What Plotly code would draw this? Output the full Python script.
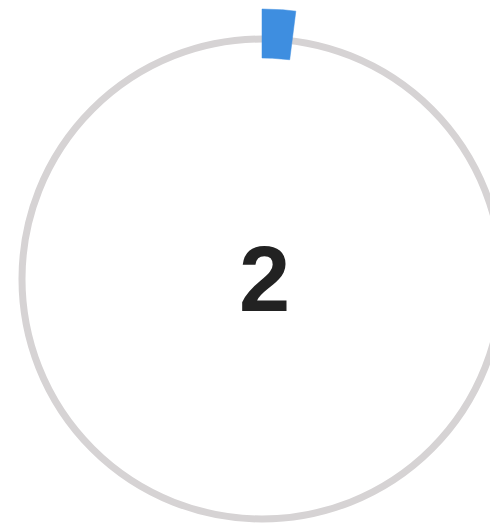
import numpy as np
import plotly.graph_objects as go

# data
value = [2]
max_value = [100]
label = ["2"]

# layout constants (pixels)
W, H = 482, 518              # visible page area (window minus body margin)
OFF = 8                      # page offset of the figure (body margin)
cx, cy = 262 - OFF, 279 - OFF  # ring centre inside the figure, from top-left
ring_r = 240
ring_w = 7
bar_r0, bar_r1 = 221, 270

span = value[0] / max_value[0] * 360.0

# progress wedge outline derived from the value (clockwise from 12 o'clock)
th = np.radians(np.linspace(0, span, 30))
xs = np.concatenate([bar_r1 * np.sin(th), bar_r0 * np.sin(th[::-1])])
ys = np.concatenate([bar_r1 * np.cos(th), bar_r0 * np.cos(th[::-1])])
xs = np.append(xs, xs[0])
ys = np.append(ys, ys[0])

fig = go.Figure()

fig.add_trace(go.Scatter(
    x=xs, y=ys, mode="lines", fill="toself",
    fillcolor="#3e8ee0", line=dict(color="#3e8ee0", width=0.5),
    hoverinfo="skip", showlegend=False,
))

# track ring
fig.add_shape(
    type="circle", xref="x", yref="y",
    x0=-ring_r, x1=ring_r, y0=-ring_r, y1=ring_r,
    line=dict(color="#d6d3d4", width=ring_w),
    fillcolor="rgba(0,0,0,0)", layer="below",
)

# central value
fig.add_annotation(
    x=2, y=0, xref="x", yref="y", text="<b>" + label[0] + "</b>",
    showarrow=False, xanchor="center", yanchor="middle",
    font=dict(family="Liberation Sans, Arial, sans-serif", size=92, color="#222222"),
)

fig.update_layout(
    width=W, height=H,
    margin=dict(l=0, r=0, t=0, b=0),
    paper_bgcolor="white",
    plot_bgcolor="white",
    showlegend=False,
    xaxis=dict(range=[-cx, W - cx], visible=False, showgrid=False, zeroline=False, fixedrange=True),
    yaxis=dict(range=[-(H - cy), cy], visible=False, showgrid=False, zeroline=False, fixedrange=True),
)

fig.write_html("out.html")
